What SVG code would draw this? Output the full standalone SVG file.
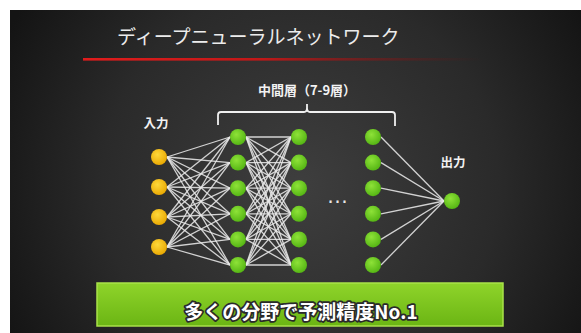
<svg xmlns="http://www.w3.org/2000/svg" width="581" height="333" viewBox="0 0 581 333">
<style>
.lbl{font-family:"Noto Sans CJK JP","Noto Sans",sans-serif;fill:#f2f2f2;font-weight:bold}
.title{font-family:"Noto Sans CJK JP","Noto Sans",sans-serif;fill:#ececec;font-size:19px;font-weight:normal}
.c{stroke:#e8e8e8;stroke-opacity:0.88;stroke-width:1.3;fill:none}
.yel{fill:url(#gy)}
.grn{fill:url(#gg)}
.banner{font-family:"Noto Sans CJK JP","Noto Sans",sans-serif;font-weight:bold;font-size:19px;fill:#ffffff;stroke:#2a2a2a;stroke-width:3.5;paint-order:stroke;stroke-linejoin:round}
</style>
<defs>
<radialGradient id="bg" cx="300" cy="185" r="330" gradientUnits="userSpaceOnUse">
<stop offset="0" stop-color="#3e3e3e"/>
<stop offset="0.6" stop-color="#2a2a2a"/>
<stop offset="1" stop-color="#141414"/>
</radialGradient>
<linearGradient id="red" x1="0" y1="0" x2="1" y2="0">
<stop offset="0" stop-color="#e01c1c"/>
<stop offset="0.45" stop-color="#c01818"/>
<stop offset="1" stop-color="#6a1010" stop-opacity="0"/>
</linearGradient>
<radialGradient id="gy" cx="0.4" cy="0.35" r="0.7">
<stop offset="0" stop-color="#ffd83a"/>
<stop offset="1" stop-color="#e8a600"/>
</radialGradient>
<radialGradient id="gg" cx="0.4" cy="0.35" r="0.7">
<stop offset="0" stop-color="#8ee238"/>
<stop offset="1" stop-color="#52b312"/>
</radialGradient>
<linearGradient id="bar" x1="0" y1="0" x2="0" y2="1">
<stop offset="0" stop-color="#8fd42a"/>
<stop offset="1" stop-color="#6bb514"/>
</linearGradient>
</defs>
<rect x="0" y="0" width="581" height="333" fill="#ffffff"/>
<rect x="10" y="10" width="571" height="323" fill="url(#bg)"/>
<text class="title" x="117" y="44">ディープニューラルネットワーク</text>
<rect x="83" y="58" width="400" height="2.6" fill="url(#red)"/>
<g id="label-middle">
<text class="lbl" x="307" y="95" font-size="13" text-anchor="middle">中間層（7-9層）</text>
<path d="M218,125 V115 Q218,112 221,112 H304 Q307,112 307,108 V104 M307,108 Q307,112 310,112 H392 Q395,112 395,115 V126" fill="none" stroke="#f0f0f0" stroke-width="1.8"/>
</g>
<g id="label-in"><text class="lbl" x="156" y="128" font-size="12.5" text-anchor="middle">入力</text></g>
<g id="label-out"><text class="lbl" x="453" y="167" font-size="12.5" text-anchor="middle">出力</text></g>
<g id="connectors">
<line class="c" x1="167" y1="157" x2="230" y2="137"/><line class="c" x1="167" y1="157" x2="230" y2="162.6"/><line class="c" x1="167" y1="157" x2="230" y2="188.2"/><line class="c" x1="167" y1="157" x2="230" y2="213.8"/><line class="c" x1="167" y1="157" x2="230" y2="239.4"/><line class="c" x1="167" y1="157" x2="230" y2="265"/>
<line class="c" x1="167" y1="187" x2="230" y2="137"/><line class="c" x1="167" y1="187" x2="230" y2="162.6"/><line class="c" x1="167" y1="187" x2="230" y2="188.2"/><line class="c" x1="167" y1="187" x2="230" y2="213.8"/><line class="c" x1="167" y1="187" x2="230" y2="239.4"/><line class="c" x1="167" y1="187" x2="230" y2="265"/>
<line class="c" x1="167" y1="217" x2="230" y2="137"/><line class="c" x1="167" y1="217" x2="230" y2="162.6"/><line class="c" x1="167" y1="217" x2="230" y2="188.2"/><line class="c" x1="167" y1="217" x2="230" y2="213.8"/><line class="c" x1="167" y1="217" x2="230" y2="239.4"/><line class="c" x1="167" y1="217" x2="230" y2="265"/>
<line class="c" x1="167" y1="247" x2="230" y2="137"/><line class="c" x1="167" y1="247" x2="230" y2="162.6"/><line class="c" x1="167" y1="247" x2="230" y2="188.2"/><line class="c" x1="167" y1="247" x2="230" y2="213.8"/><line class="c" x1="167" y1="247" x2="230" y2="239.4"/><line class="c" x1="167" y1="247" x2="230" y2="265"/>
<line class="c" x1="246" y1="137" x2="291" y2="137"/><line class="c" x1="246" y1="137" x2="291" y2="162.6"/><line class="c" x1="246" y1="137" x2="291" y2="188.2"/><line class="c" x1="246" y1="137" x2="291" y2="213.8"/><line class="c" x1="246" y1="137" x2="291" y2="239.4"/><line class="c" x1="246" y1="137" x2="291" y2="265"/>
<line class="c" x1="246" y1="162.6" x2="291" y2="137"/><line class="c" x1="246" y1="162.6" x2="291" y2="162.6"/><line class="c" x1="246" y1="162.6" x2="291" y2="188.2"/><line class="c" x1="246" y1="162.6" x2="291" y2="213.8"/><line class="c" x1="246" y1="162.6" x2="291" y2="239.4"/><line class="c" x1="246" y1="162.6" x2="291" y2="265"/>
<line class="c" x1="246" y1="188.2" x2="291" y2="137"/><line class="c" x1="246" y1="188.2" x2="291" y2="162.6"/><line class="c" x1="246" y1="188.2" x2="291" y2="188.2"/><line class="c" x1="246" y1="188.2" x2="291" y2="213.8"/><line class="c" x1="246" y1="188.2" x2="291" y2="239.4"/><line class="c" x1="246" y1="188.2" x2="291" y2="265"/>
<line class="c" x1="246" y1="213.8" x2="291" y2="137"/><line class="c" x1="246" y1="213.8" x2="291" y2="162.6"/><line class="c" x1="246" y1="213.8" x2="291" y2="188.2"/><line class="c" x1="246" y1="213.8" x2="291" y2="213.8"/><line class="c" x1="246" y1="213.8" x2="291" y2="239.4"/><line class="c" x1="246" y1="213.8" x2="291" y2="265"/>
<line class="c" x1="246" y1="239.4" x2="291" y2="137"/><line class="c" x1="246" y1="239.4" x2="291" y2="162.6"/><line class="c" x1="246" y1="239.4" x2="291" y2="188.2"/><line class="c" x1="246" y1="239.4" x2="291" y2="213.8"/><line class="c" x1="246" y1="239.4" x2="291" y2="239.4"/><line class="c" x1="246" y1="239.4" x2="291" y2="265"/>
<line class="c" x1="246" y1="265" x2="291" y2="137"/><line class="c" x1="246" y1="265" x2="291" y2="162.6"/><line class="c" x1="246" y1="265" x2="291" y2="188.2"/><line class="c" x1="246" y1="265" x2="291" y2="213.8"/><line class="c" x1="246" y1="265" x2="291" y2="239.4"/><line class="c" x1="246" y1="265" x2="291" y2="265"/>
<line class="c" x1="381" y1="137" x2="444" y2="201"/><line class="c" x1="381" y1="162.6" x2="444" y2="201"/><line class="c" x1="381" y1="188.2" x2="444" y2="201"/><line class="c" x1="381" y1="213.8" x2="444" y2="201"/><line class="c" x1="381" y1="239.4" x2="444" y2="201"/><line class="c" x1="381" y1="265" x2="444" y2="201"/>
</g>
<g id="input-layer">
<circle class="yel" cx="159" cy="157" r="8"/><circle class="yel" cx="159" cy="187" r="8"/><circle class="yel" cx="159" cy="217" r="8"/><circle class="yel" cx="159" cy="247" r="8"/>
</g>
<g id="hidden-1">
<circle class="grn" cx="238" cy="137" r="8"/><circle class="grn" cx="238" cy="162.6" r="8"/><circle class="grn" cx="238" cy="188.2" r="8"/><circle class="grn" cx="238" cy="213.8" r="8"/><circle class="grn" cx="238" cy="239.4" r="8"/><circle class="grn" cx="238" cy="265" r="8"/>
</g>
<g id="hidden-2">
<circle class="grn" cx="299" cy="137" r="8"/><circle class="grn" cx="299" cy="162.6" r="8"/><circle class="grn" cx="299" cy="188.2" r="8"/><circle class="grn" cx="299" cy="213.8" r="8"/><circle class="grn" cx="299" cy="239.4" r="8"/><circle class="grn" cx="299" cy="265" r="8"/>
</g>
<g id="ellipsis"><text x="337.5" y="203" font-family="Liberation Sans, sans-serif" font-size="22" fill="#e8e8e8" text-anchor="middle">…</text></g>
<g id="hidden-n">
<circle class="grn" cx="373" cy="137" r="8"/><circle class="grn" cx="373" cy="162.6" r="8"/><circle class="grn" cx="373" cy="188.2" r="8"/><circle class="grn" cx="373" cy="213.8" r="8"/><circle class="grn" cx="373" cy="239.4" r="8"/><circle class="grn" cx="373" cy="265" r="8"/>
</g>
<g id="output-layer"><circle class="grn" cx="452" cy="201" r="8"/></g>
<g id="banner">
<rect x="97" y="283" width="406" height="43" fill="url(#bar)" stroke="#a9e24a" stroke-width="1.5"/>
<text class="banner" x="301" y="319" text-anchor="middle">多くの分野で予測精度No.1</text>
</g>
</svg>
